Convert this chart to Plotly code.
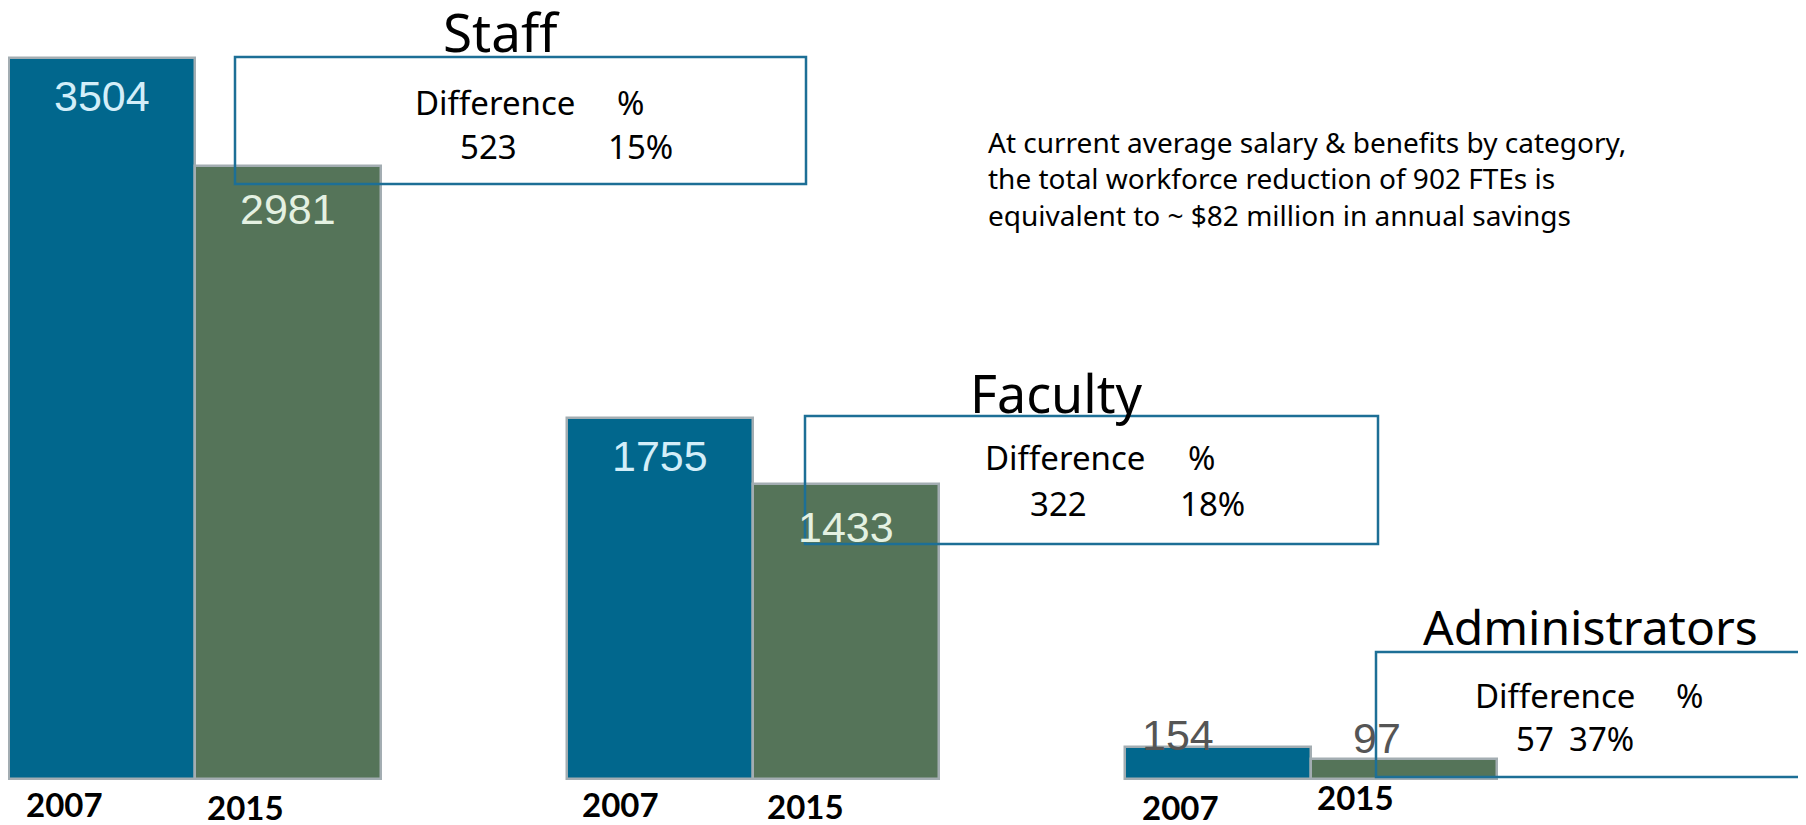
import plotly.graph_objects as go

# ---- data ----
categories = ["Staff", "Faculty", "Administrators"]
years = ["2007", "2015"]
values_2007 = [3504, 1755, 154]
values_2015 = [2981, 1433, 97]
differences = [523, 322, 57]
percents = ["15%", "18%", "37%"]
note_lines = [
    "At current average salary & benefits by category,",
    "the total workforce reduction of 902 FTEs is",
    "equivalent to ~ $82 million in annual savings",
]

W, H = 1806, 825
OFF = 8  # page body margin
BLUE = "#01678d"
GREEN = "#557459"
EDGE = "#a3adb2"
BOXC = "#1d6f96"

x2007 = [i * 3 + 0.5 for i in range(3)]
x2015 = [i * 3 + 1.5 for i in range(3)]

fig = go.Figure()
fig.add_trace(go.Bar(x=x2007, y=values_2007, width=1, name=years[0],
                     marker=dict(color=BLUE, line=dict(color=EDGE, width=2.5))))
fig.add_trace(go.Bar(x=x2015, y=values_2015, width=1, name=years[1],
                     marker=dict(color=GREEN, line=dict(color=EDGE, width=2.5))))

def px(x):
    return (x - OFF) / W

def py(y):
    return 1 - (y - OFF) / H

ann = []
# value labels
for i in range(3):
    if i < 2:
        ann.append(dict(x=x2007[i], y=values_2007[i], xref="x", yref="y", text=str(values_2007[i]),
                        showarrow=False, yanchor="middle", yshift=-38,
                        font=dict(family="Liberation Sans, Arial", size=43, color="#d3eef9")))
        ann.append(dict(x=x2015[i], y=values_2015[i], xref="x", yref="y", text=str(values_2015[i]),
                        showarrow=False, yanchor="middle", yshift=-43,
                        font=dict(family="Liberation Sans, Arial", size=43, color="#e4f1e2")))
    else:
        ann.append(dict(x=x2007[i], y=values_2007[i], xref="x", yref="y", text=str(values_2007[i]),
                        showarrow=False, yanchor="middle", yshift=12, xshift=-40,
                        font=dict(family="Liberation Sans, Arial", size=43, color="#555555")))
        ann.append(dict(x=x2015[i], y=values_2015[i], xref="x", yref="y", text=str(values_2015[i]),
                        showarrow=False, yanchor="middle", yshift=21, xshift=-27,
                        font=dict(family="Liberation Sans, Arial", size=43, color="#555555")))

# year labels under bars
year_shift = [(-38, -25, -43, -28), (-40, -25, -41, -27), (-38, -28, -49, -18)]
for i in range(3):
    s = year_shift[i]
    ann.append(dict(x=x2007[i], y=0, xref="x", yref="y", text="<b>%s</b>" % years[0],
                    showarrow=False, yanchor="middle", xshift=s[0], yshift=s[1],
                    font=dict(family="Lato", size=33, color="#000000")))
    ann.append(dict(x=x2015[i], y=0, xref="x", yref="y", text="<b>%s</b>" % years[1],
                    showarrow=False, yanchor="middle", xshift=s[2], yshift=s[3],
                    font=dict(family="Lato", size=33, color="#000000")))

# titles
title_pos = [(501, 32, 53), (1056, 392, 52), (1590, 626, 48)]
for c, (tx, ty, fs) in zip(categories, title_pos):
    ann.append(dict(x=px(tx), y=py(ty), xref="paper", yref="paper", text=c, showarrow=False,
                    xanchor="center", yanchor="middle",
                    font=dict(family="Noto Sans", size=fs, color="#000000")))

# difference boxes
boxes = [(235, 57, 806, 184), (805, 416, 1378, 544), (1376, 652, 1802, 777)]
for (x0, y0, x1, y1) in boxes:
    fig.add_shape(type="rect", xref="paper", yref="paper", x0=px(x0), x1=px(x1),
                  y0=py(y1), y1=py(y0), line=dict(color=BOXC, width=2.5),
                  fillcolor="rgba(0,0,0,0)")

box_text = [
    [(495, 103, "Difference"), (630, 103, "%"), (488, 147, str(differences[0])), (640, 147, percents[0])],
    [(1065, 458, "Difference"), (1201, 458, "%"), (1058, 503, str(differences[1])), (1212, 503, percents[1])],
    [(1555, 695, "Difference"), (1689, 695, "%"), (1535, 738, str(differences[2])), (1601, 738, percents[2])],
]
for group in box_text:
    for (tx, ty, t) in group:
        ann.append(dict(x=px(tx), y=py(ty), xref="paper", yref="paper", text=t, showarrow=False,
                        xanchor="center", yanchor="middle",
                        font=dict(family="Noto Sans", size=33, color="#000000")))

# note
ann.append(dict(x=px(986), y=py(178), xref="paper", yref="paper", text="<br>".join(note_lines),
                showarrow=False, xanchor="left", yanchor="middle", align="left",
                font=dict(family="Noto Sans", size=28, color="#000000")))

k = 721 / 3504.0
zero_px = 779 - OFF
fig.update_layout(
    width=W, height=H, autosize=False,
    margin=dict(l=0, r=0, t=0, b=0, pad=0),
    paper_bgcolor="white", plot_bgcolor="white",
    showlegend=False, bargap=0,
    xaxis=dict(range=[(OFF - 9) / 186, (W + OFF - 9) / 186], visible=False, fixedrange=True),
    yaxis=dict(range=[(zero_px - H) / k, zero_px / k], visible=False, fixedrange=True),
    annotations=ann,
)

fig.write_html("out.html")
